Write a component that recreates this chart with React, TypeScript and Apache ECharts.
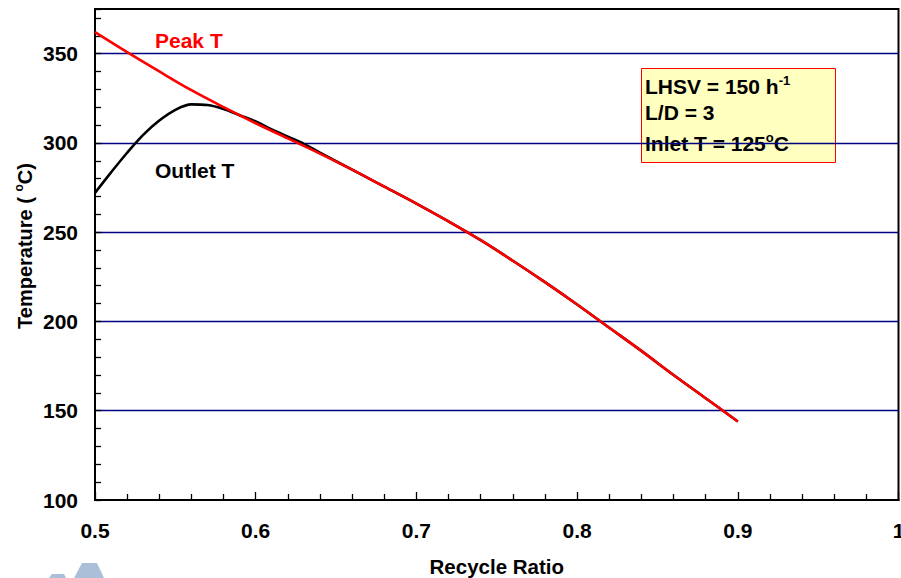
import React, { useEffect, useRef } from 'react';
import * as echarts from 'echarts';

// Peak temperature vs recycle ratio
const ratioPeak = [0.5, 0.52, 0.54, 0.56, 0.58, 0.6, 0.62, 0.64, 0.66, 0.68, 0.7, 0.72, 0.74, 0.76, 0.78, 0.8, 0.82, 0.84, 0.86, 0.88, 0.9];
const peakT = [362, 350.8, 340, 329.5, 320, 311, 302.5, 294, 285, 275.5, 266, 256, 245.5, 234, 222, 209.5, 196.5, 183.5, 170, 157, 144];

// Outlet temperature vs recycle ratio
const ratioOutlet = [0.5, 0.51, 0.52, 0.53, 0.54, 0.55, 0.56, 0.57, 0.58, 0.59, 0.6, 0.61, 0.62, 0.63, 0.64, 0.66, 0.68, 0.7, 0.72, 0.74, 0.76, 0.78, 0.8, 0.82, 0.84, 0.86, 0.88, 0.9];
const outletT = [272, 283.5, 294.5, 304.5, 312.5, 318.5, 321.6, 321.2, 319, 315.5, 312, 307.5, 303.5, 299.5, 294.5, 285, 275.5, 266, 256, 245.5, 234, 222, 209.5, 196.5, 183.5, 170, 157, 144];

const xTickLabels = [0.5, 0.6, 0.7, 0.8, 0.9, 1];
const yTickLabels = [100, 150, 200, 250, 300, 350];

const X_MIN = 0.5, X_MAX = 1, Y_MIN = 100, Y_MAX = 375;
const FONT = '"Liberation Sans", Arial, sans-serif';

export default function App() {
  const ref = useRef<HTMLDivElement>(null);
  useEffect(() => {
    const chart = echarts.init(ref.current!, null, { renderer: 'svg' });

    const yTicks: number[] = [];
    for (let v = Y_MIN; v < Y_MAX; v += 10) yTicks.push(v);
    yTicks.push(Y_MAX);
    const ySplitColors = yTicks.map((v) =>
      yTickLabels.includes(v) && v !== Y_MIN ? '#000080' : 'rgba(0,0,0,0)'
    );

    const base = { fontFamily: FONT, fontWeight: 'bold' as const, color: '#000' };
    const supRich = {
      n: { fontFamily: FONT, fontWeight: 'bold', fontSize: 20, lineHeight: 24, color: '#000' },
      s: { fontFamily: FONT, fontWeight: 'bold', fontSize: 12, lineHeight: 12, verticalAlign: 'top', color: '#000' },
    };
    const boxRich = {
      n: { fontFamily: FONT, fontWeight: 'bold', fontSize: 21, lineHeight: 25, color: '#000' },
      s: { fontFamily: FONT, fontWeight: 'bold', fontSize: 13, lineHeight: 13, verticalAlign: 'top', color: '#000' },
    };

    chart.setOption({
      animation: false,
      grid: {
        left: 95, right: 2.5, top: 9, bottom: 78,
        show: true, borderColor: '#000', borderWidth: 2, backgroundColor: 'transparent',
        outerBoundsMode: 'none',
      },
      xAxis: {
        type: 'value', min: X_MIN, max: X_MAX, interval: 0.1,
        axisLine: { show: true, lineStyle: { color: '#000', width: 2 } },
        axisTick: { show: true, inside: true, length: 8, lineStyle: { color: '#000', width: 1.3 } },
        minorTick: { show: true, splitNumber: 5, length: 6, lineStyle: { color: '#000', width: 1.3 } },
        splitLine: { show: false },
        axisLabel: {
          ...base, fontSize: 21, margin: 20,
          formatter: (v: number) => {
            const m = xTickLabels.find((t) => Math.abs(t - v) < 1e-9);
            return m === undefined ? '' : String(m);
          },
        },
        name: 'Recycle Ratio', nameLocation: 'middle', nameGap: 56,
        nameTextStyle: { ...base, fontSize: 20.5 },
      },
      yAxis: {
        type: 'value', min: Y_MIN, max: Y_MAX, interval: 10,
        axisLine: { show: true, lineStyle: { color: '#000', width: 2 } },
        axisTick: { show: true, inside: true, length: 6, lineStyle: { color: '#000', width: 1.3 } },
        splitLine: { show: true, showMinLine: true, showMaxLine: true, lineStyle: { color: ySplitColors, width: 1.4 } },
        axisLabel: {
          ...base, fontSize: 21, margin: 17,
          formatter: (v: number) => (yTickLabels.includes(Math.round(v)) && Math.abs(v - Math.round(v)) < 1e-9 ? String(Math.round(v)) : ''),
        },
      },
      series: [
        {
          type: 'line', name: 'Outlet T', data: ratioOutlet.map((x, i) => [x, outletT[i]]),
          showSymbol: false, smooth: 0.35, lineStyle: { color: '#000', width: 2.6 }, z: 2,
        },
        {
          type: 'line', name: 'Peak T', data: ratioPeak.map((x, i) => [x, peakT[i]]),
          showSymbol: false, smooth: 0.35, lineStyle: { color: '#ff0000', width: 2.6 }, z: 3,
        },
      ],
      graphic: [
        {
          type: 'text', x: 25, y: 246, rotation: Math.PI / 2,
          style: {
            text: '{n|Temperature ( }{s|o}{n|C)}', rich: supRich,
            align: 'center', verticalAlign: 'middle',
          },
        },
        { type: 'text', x: 155, y: 40, style: { text: 'Peak T', fill: '#ff0000', font: `bold 21px ${FONT}`, verticalAlign: 'middle' } },
        { type: 'text', x: 155, y: 170, style: { text: 'Outlet T', fill: '#000', font: `bold 21px ${FONT}`, verticalAlign: 'middle' } },
        {
          type: 'rect', shape: { x: 641.5, y: 68.5, width: 194, height: 94 },
          style: { fill: '#ffffc0', stroke: '#ff0000', lineWidth: 1 },
        },
        {
          type: 'text', x: 645, y: 86,
          style: { text: '{n|LHSV = 150 h}{s|-1}', rich: boxRich, verticalAlign: 'middle' },
        },
        {
          type: 'text', x: 645, y: 112,
          style: { text: '{n|L/D = 3}', rich: boxRich, verticalAlign: 'middle' },
        },
        {
          type: 'text', x: 645, y: 143,
          style: { text: '{n|Inlet T = 125}{s|o}{n|C}', rich: boxRich, verticalAlign: 'middle' },
        },
        {
          type: 'polygon', shape: { points: [[82, 563], [97, 563], [104, 578], [74, 578]] },
          style: { fill: '#a9c0d8' },
        },
        {
          type: 'polygon', shape: { points: [[52, 574], [64, 574], [66, 578], [49, 578]] },
          style: { fill: '#a9c0d8' },
        },
      ],
    });
    return () => chart.dispose();
  }, []);
  return <div ref={ref} style={{ position: 'fixed', left: 0, top: 0, width: 901, height: 578, background: '#fff' }} />;
}
